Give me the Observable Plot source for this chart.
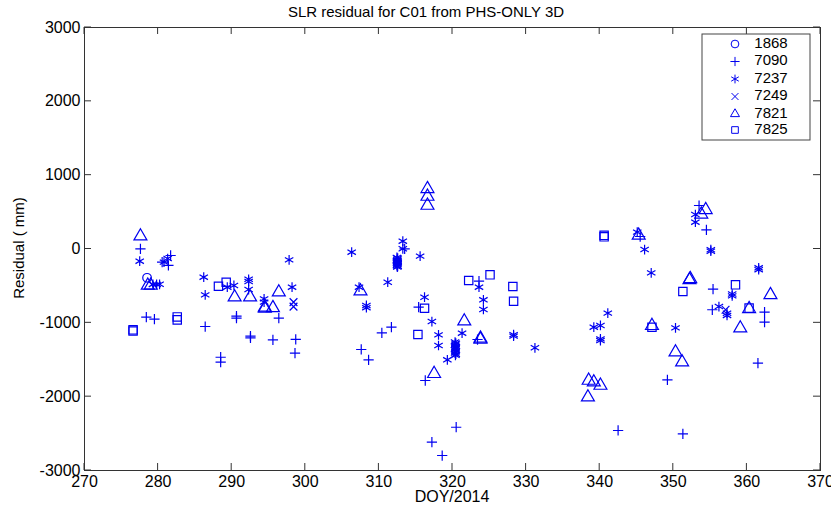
<!DOCTYPE html>
<html><head><meta charset="utf-8">
<script src="https://cdn.jsdelivr.net/npm/d3@7"></script>
<script src="https://cdn.jsdelivr.net/npm/@observablehq/plot@0.6"></script>
<style>
body{margin:0;background:#fff;}
#chart{width:831px;height:506px;}
svg{font-family:"Liberation Sans", Arial, sans-serif;}
</style></head><body><div id="chart"></div>
<script>
// ---- data ----
const stations = ["1868", "7090", "7237", "7249", "7821", "7825"];
const xTicks = [270, 280, 290, 300, 310, 320, 330, 340, 350, 360, 370];
const yTicks = [-3000, -2000, -1000, 0, 1000, 2000, 3000];

const doy1868 = [278.5];
const res1868 = [-390];

const doy7090 = [277.6, 278.4, 279.5, 280.55, 281.7, 281.4, 286.4, 288.5, 288.5, 290.65, 290.65, 292.55, 292.55, 295.6, 296.4, 298.7, 298.6, 307.6, 308.6, 310.4, 311.7, 313.5, 315.4, 316.3, 317.2, 318.6, 320.5, 323.4, 323.6, 345.5, 342.5, 349.2, 351.3, 353.5, 354.5, 355.4, 355.3, 362.4, 362.4, 361.5];
const res7090 = [3, -923, -950, -178, -88, -223, -1050, -1466, -1533, -910, -935, -1180, -1205, -1230, -937, -1225, -1411, -1361, -1501, -1135, -1059, 3, -788, -1781, -2617, -2797, -2414, -1226, -436, 169, -2458, -1772, -2503, 589, 260, -544, -823, -856, -991, -1547];

const doy7237 = [277.5, 279.3, 279.8, 280.2, 280.8, 281.3, 286.2, 286.4, 289.4, 290.3, 292.3, 292.3, 292.3, 294.4, 294.4, 297.8, 298.2, 306.3, 307.3, 308.3, 308.3, 311.2,
  312.45, 312.55, 312.5, 312.45, 312.55, 312.5, 312.45, 312.55, 312.5, 312.45, 312.55, 312.5, 312.5,
  313.25, 313.25, 315.6, 316.2, 317.2, 318.1, 318.1, 319.3,
  320.35, 320.45, 320.4, 320.35, 320.45, 320.4, 320.4, 320.35, 320.45, 320.4, 320.35, 320.45, 320.4,
  321.3, 323.6, 324.2, 324.2, 328.3, 328.3, 331.2, 339.2, 340.1, 340.1, 340.1, 341.1, 345.1, 346.1, 347.0, 350.3, 353.0, 353.0, 355.1, 355.1, 356.2, 357.3, 357.3, 358.0, 358.0, 361.6, 361.6];
const res7237 = [-165, -480, -480, -478, -178, -129, -382, -621, -517, -494, -410, -440, -549, -675, -720, -147, -517, -43, -517, -765, -795, -450,
  -115, -125, -140, -155, -165, -180, -190, -200, -210, -225, -235, -245, -160,
  106, 3, -97, -653, -982, -1163, -1307, -1501,
  -1260, -1275, -1290, -1305, -1320, -1335, -1350, -1365, -1380, -1395, -1410, -1425, -1440,
  -1140, -517, -688, -819, -1160, -1180, -1338, -1059, -1036, -1217, -1240, -869, 228, -7, -323, -1068, 467, 363, -10, -30, -779, -870, -900, -610, -635, -255, -280];

const doy7249 = [298.4, 298.4, 357.1];
const res7249 = [-720, -780, -823];

const doy7821 = [277.6, 278.6, 279.0, 290.4, 292.5, 294.5, 294.5, 295.6, 296.4, 307.5, 316.6, 316.6, 316.6, 317.5, 321.6, 323.8, 323.8, 338.4, 338.5, 339.2, 340.1, 345.3, 347.1, 350.3, 351.2, 352.2, 352.3, 353.8, 354.4, 359.1, 360.3, 363.2];
const res7821 = [174, -494, -494, -653, -653, -790, -805, -797, -585, -572, 815, 711, 589, -1690, -978, -1226, -1210, -2007, -1781, -1804, -1849, 183, -1040, -1398, -1533, -418, -404, 470, 531, -1073, -810, -621];

const doy7825 = [276.6, 276.6, 282.6, 282.6, 288.2, 289.25, 316.2, 315.3, 322.2, 325.1, 328.2, 328.3, 340.6, 340.6, 347.1, 351.3, 358.45, 360.3];
const res7825 = [-1095, -1110, -920, -960, -504, -450, -802, -1158, -427, -350, -508, -707, 165, 185, -1060, -576, -485, -800];

const seriesDoy = {"1868": doy1868, "7090": doy7090, "7237": doy7237, "7249": doy7249, "7821": doy7821, "7825": doy7825};
const seriesRes = {"1868": res1868, "7090": res7090, "7237": res7237, "7249": res7249, "7821": res7821, "7825": res7825};

// ---- styles ----
const symbolOf = {"1868": "circle", "7090": "plus", "7237": "asterisk", "7249": "times", "7821": "triangle", "7825": "square"};
const rOf = {"1868": 4.3, "7090": 3.4, "7237": 4.6, "7249": 3.6, "7821": 4.8, "7825": 4.7};
const d3SymOf = {"1868": d3.symbolCircle, "7090": d3.symbolPlus, "7237": d3.symbolAsterisk, "7249": d3.symbolTimes, "7821": d3.symbolTriangle2, "7825": d3.symbolSquare2};
const blue = "#0000f0";

const rows = stations.flatMap(s => seriesDoy[s].map((d, i) => ({station: s, doy: d, res: seriesRes[s][i]})));

const W = 831, H = 506, ML = 84, MR = 11, MT = 27, MB = 36;

const plot = Plot.plot({
  width: W, height: H,
  marginLeft: ML, marginRight: MR, marginTop: MT, marginBottom: MB,
  style: {fontFamily: "Liberation Sans, Arial, sans-serif", fontSize: "15px", background: "#fff", color: "#000", overflow: "visible"},
  x: {domain: [270, 370], label: null},
  y: {domain: [-3000, 3000], label: null},
  marks: [
    Plot.axisX(xTicks, {anchor: "bottom", tickSize: 0, tickPadding: 5, fontSize: 16, tickFormat: d => String(d)}),
    Plot.axisY(yTicks, {anchor: "left", tickSize: 0, tickPadding: 4, fontSize: 16, tickFormat: d => String(d)}),
    ...stations.map(s => Plot.dot(rows.filter(d => d.station === s), {
      x: "doy", y: "res", symbol: symbolOf[s], r: rOf[s], stroke: blue, strokeWidth: 1.2, fill: "none"
    })),
    Plot.frame({stroke: "#333", strokeWidth: 1})
  ]
});

document.getElementById("chart").appendChild(plot);
const svg = d3.select(plot);
const xs = plot.scale("x"), ys = plot.scale("y");
const x0 = ML, x1 = W - MR, y0 = MT, y1 = H - MB;
const tl = 7;
const g = svg.append("g").attr("stroke", "#333").attr("stroke-width", 1);
xTicks.forEach(t => {
  const px = xs.apply(t);
  g.append("line").attr("x1", px).attr("x2", px).attr("y1", y1).attr("y2", y1 - tl);
  g.append("line").attr("x1", px).attr("x2", px).attr("y1", y0).attr("y2", y0 + tl);
});
yTicks.forEach(t => {
  const py = ys.apply(t);
  g.append("line").attr("x1", x0).attr("x2", x0 + tl).attr("y1", py).attr("y2", py);
  g.append("line").attr("x1", x1).attr("x2", x1 - tl).attr("y1", py).attr("y2", py);
});

// title and axis labels
svg.append("text").attr("x", 426).attr("y", 13).attr("text-anchor", "middle").attr("dominant-baseline", "middle")
  .attr("font-size", 15).attr("fill", "#000").text("SLR residual for C01 from PHS-ONLY 3D");
svg.append("text").attr("x", 452).attr("y", 498).attr("text-anchor", "middle").attr("dominant-baseline", "middle")
  .attr("font-size", 16).attr("fill", "#000").text("DOY/2014");
svg.append("text").attr("transform", "translate(20,248) rotate(-90)").attr("text-anchor", "middle").attr("dominant-baseline", "middle")
  .attr("font-size", 15).attr("fill", "#000").text("Residual ( mm)");

// legend
const lg = svg.append("g");
lg.append("rect").attr("x", 702).attr("y", 34).attr("width", 108).attr("height", 106).attr("fill", "#fff").attr("stroke", "#444");
const ly = [44, 61.5, 79, 96.5, 114, 130];
stations.forEach((s, i) => {
  lg.append("path").attr("transform", `translate(735,${ly[i]})`)
    .attr("d", d3.symbol(d3SymOf[s], Math.PI * (rOf[s] * 0.9) ** 2)())
    .attr("fill", "none").attr("stroke", blue).attr("stroke-width", 1);
  lg.append("text").attr("x", 771).attr("y", ly[i]).attr("dominant-baseline", "middle")
    .attr("font-size", 15).attr("fill", "#000").text(s);
});
</script></body></html>
